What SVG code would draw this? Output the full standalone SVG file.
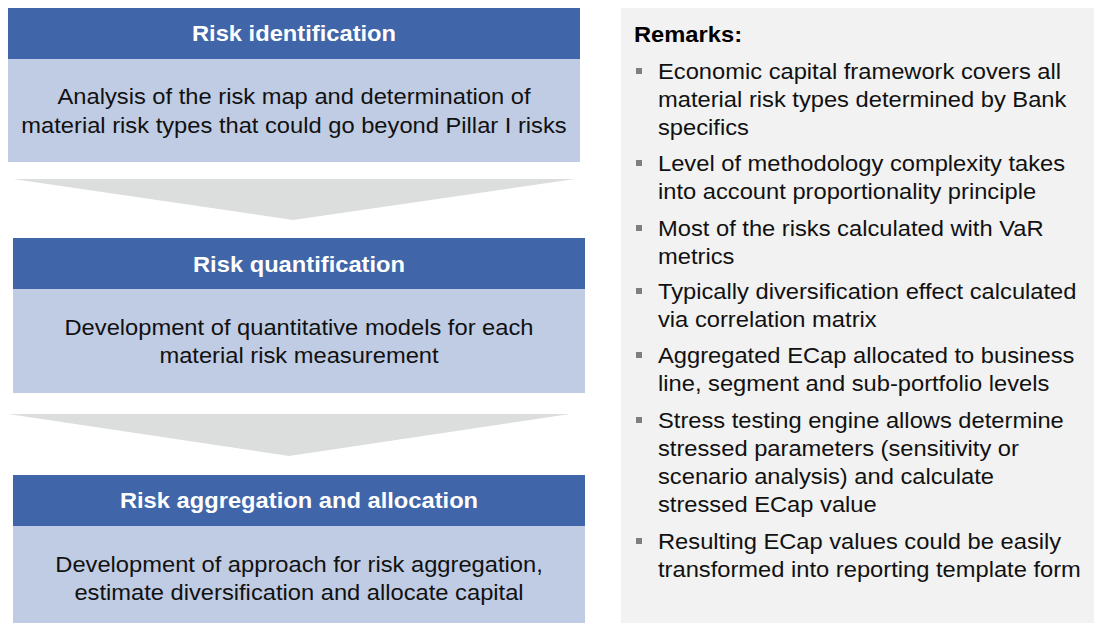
<svg xmlns="http://www.w3.org/2000/svg" width="1094" height="623" viewBox="0 0 1094 623">
<defs>
<style>
.hdr{fill:#4065A9}
.body{fill:#C0CCE3}
.arrow{fill:#DCDEDE}
.ht{font-family:"Liberation Sans",Arial,sans-serif;font-size:22px;font-weight:bold;fill:#FFFFFF;text-anchor:middle}
.bt{font-family:"Liberation Sans",Arial,sans-serif;font-size:22px;fill:#111111;text-anchor:middle}
.rt{font-family:"Liberation Sans",Arial,sans-serif;font-size:22px;fill:#111111}
.rh{font-family:"Liberation Sans",Arial,sans-serif;font-size:22px;font-weight:bold;fill:#000000}
.bul{fill:#7F7F7F}
</style>
</defs>
<rect width="1094" height="623" fill="#FFFFFF"/>
<g id="connectors">
<polygon class="arrow" points="13,179 575,179 293,220"/>
<polygon class="arrow" points="8,414 570,414 289,456"/>
</g>
<g id="node-identification">
<rect class="hdr" x="8" y="8" width="572" height="51"/>
<rect class="body" x="8" y="59" width="572" height="103"/>
<g transform="translate(294 0) scale(1.078 1)">
<text class="ht" x="0" y="41">Risk identification</text>
<text class="bt" x="0" y="104">Analysis of the risk map and determination of</text>
<text class="bt" x="0" y="133">material risk types that could go beyond Pillar I risks</text>
</g>
</g>
<g id="node-quantification">
<rect class="hdr" x="13" y="238" width="572" height="51"/>
<rect class="body" x="13" y="289" width="572" height="104"/>
<g transform="translate(299 0) scale(1.078 1)">
<text class="ht" x="0" y="272">Risk quantification</text>
<text class="bt" x="0" y="335">Development of quantitative models for each</text>
<text class="bt" x="0" y="363">material risk measurement</text>
</g>
</g>
<g id="node-aggregation">
<rect class="hdr" x="13" y="475" width="572" height="51"/>
<rect class="body" x="13" y="526" width="572" height="97"/>
<g transform="translate(299 0) scale(1.078 1)">
<text class="ht" x="0" y="508">Risk aggregation and allocation</text>
<text class="bt" x="0" y="572">Development of approach for risk aggregation,</text>
<text class="bt" x="0" y="600">estimate diversification and allocate capital</text>
</g>
</g>
<g id="remarks">
<rect x="621" y="8" width="473" height="615" fill="#F2F2F2"/>
<rect class="bul" x="636" y="68" width="6" height="6"/>
<rect class="bul" x="636" y="160" width="6" height="6"/>
<rect class="bul" x="636" y="225" width="6" height="6"/>
<rect class="bul" x="636" y="288" width="6" height="6"/>
<rect class="bul" x="636" y="352" width="6" height="6"/>
<rect class="bul" x="636" y="417" width="6" height="6"/>
<rect class="bul" x="636" y="538" width="6" height="6"/>
<g transform="translate(634 0) scale(1.078 1)">
<text class="rh" x="0" y="42">Remarks:</text>
</g>
<g transform="translate(658 0) scale(1.078 1)">
<text class="rt" x="0" y="79">Economic capital framework covers all</text>
<text class="rt" x="0" y="107">material risk types determined by Bank</text>
<text class="rt" x="0" y="135">specifics</text>
<text class="rt" x="0" y="171">Level of methodology complexity takes</text>
<text class="rt" x="0" y="199">into account proportionality principle</text>
<text class="rt" x="0" y="236">Most of the risks calculated with VaR</text>
<text class="rt" x="0" y="264">metrics</text>
<text class="rt" x="0" y="299">Typically diversification effect calculated</text>
<text class="rt" x="0" y="327">via correlation matrix</text>
<text class="rt" x="0" y="363">Aggregated ECap allocated to business</text>
<text class="rt" x="0" y="391">line, segment and sub-portfolio levels</text>
<text class="rt" x="0" y="428">Stress testing engine allows determine</text>
<text class="rt" x="0" y="456">stressed parameters (sensitivity or</text>
<text class="rt" x="0" y="484">scenario analysis) and calculate</text>
<text class="rt" x="0" y="512">stressed ECap value</text>
<text class="rt" x="0" y="549">Resulting ECap values could be easily</text>
<text class="rt" x="0" y="577">transformed into reporting template form</text>
</g>
</g>
</svg>
